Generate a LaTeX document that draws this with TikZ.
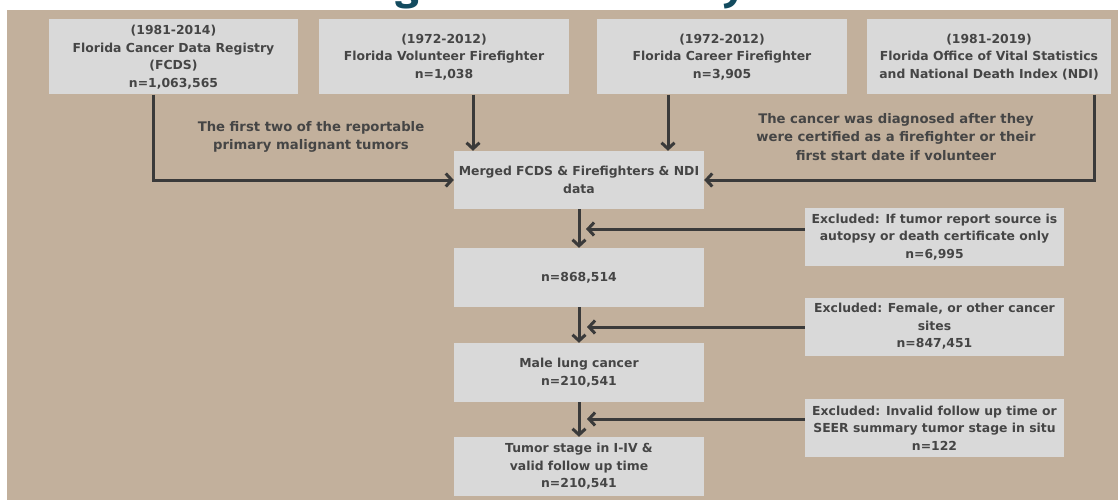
\documentclass[tikz,border=0pt]{standalone}
\usepackage{fontspec}
\setmainfont{DejaVu Sans}
\newfontfamily\titlefont{Fira Sans}
\usetikzlibrary{arrows.meta}
\definecolor{bgtan}{HTML}{C2B09C}
\definecolor{boxgray}{HTML}{D9D9D9}
\definecolor{txtgray}{HTML}{454545}
\definecolor{linegray}{HTML}{3A3A3A}
\definecolor{titleblue}{HTML}{134B5F}
\begin{document}
\begin{tikzpicture}[x=1pt,y=-1pt,
  txtfont/.style={font=\fontsize{12.4}{17.6}\selectfont\bfseries},
  notefont/.style={font=\fontsize{13.2}{18.2}\selectfont\bfseries},
  box/.style={fill=boxgray, draw=none, align=center, text=txtgray, txtfont, inner sep=0pt, minimum width=250pt},
  srcbox/.style={box, minimum height=75pt},
  flowbox/.style={box, minimum height=59pt},
  exbox/.style={box, minimum width=259pt, minimum height=58pt},
  note/.style={align=center, text=txtgray, notefont, inner sep=0pt},
  conn/.style={draw=linegray, line width=3pt},
  arr/.style={conn, -{Straight Barb[length=6pt,width=13pt,line width=3pt]}}]
\useasboundingbox (0,0) rectangle (1118,500);
% partially hidden title
\begin{scope}
  \clip (0,0) rectangle (1118,10);
  \node[anchor=base west, inner sep=0pt, font=\titlefont\fontsize{43}{43}\selectfont\bfseries, text=titleblue] (title) at (231,0) {Flow Diagram of the Study};
\end{scope}
\fill[bgtan] (7,10) rectangle (1118,500);

% source boxes
\node[srcbox, minimum width=249pt] (b1) at (173.5,57) {(1981-2014)\\Florida Cancer Data Registry\\(FCDS)\\n=1,063,565};
\node[srcbox] (b2) at (444,57) {(1972-2012)\\Florida Volunteer Firefighter\\n=1,038};
\node[srcbox] (b3) at (722,57) {(1972-2012)\\Florida Career Firefighter\\n=3,905};
\node[srcbox, minimum width=244pt] (b4) at (989,57) {(1981-2019)\\Florida Office of Vital Statistics\\and National Death Index (NDI)};

% main flow
\node[flowbox, minimum height=58pt] (merged) at (579,180) {Merged FCDS \& Firefighters \& NDI\\data};
\node[flowbox] (n1) at (579,277.5) {n=868,514};
\node[flowbox] (male) at (579,372.5) {Male lung cancer\\n=210,541};
\node[flowbox] (tumor) at (579,466.5) {Tumor stage in I-IV \&\\valid follow up time\\n=210,541};

% exclusion boxes
\node[exbox] (ex1) at (934.5,237) {Excluded: If tumor report source is\\autopsy or death certificate only\\n=6,995};
\node[exbox] (ex2) at (934.5,326.5) {Excluded: Female, or other cancer\\sites\\n=847,451};
\node[exbox] (ex3) at (934.5,428) {Excluded: Invalid follow up time or\\SEER summary tumor stage in situ\\n=122};

% notes
\node[note] (note1) at (311,137) {The first two of the reportable\\primary malignant tumors};
\node[note] (note2) at (896,137) {The cancer was diagnosed after they\\were certified as a firefighter or their\\first start date if volunteer};

% connectors from sources
\coordinate (v1) at (153,0);
\coordinate (v2) at (473,0);
\coordinate (v3) at (668,0);
\coordinate (v4) at (1094,0);
\draw[arr] (b1.south -| v1) |- (merged.west);
\draw[arr] (b2.south -| v2) -- (merged.north -| v2);
\draw[arr] (b3.south -| v3) -- (merged.north -| v3);
\draw[arr] (b4.south -| v4) |- (merged.east);

% main flow arrows
\draw[arr] (merged.south) -- (n1.north);
\draw[arr] (n1.south) -- (male.north);
\draw[arr] (male.south) -- (tumor.north);

% exclusion arrows
\coordinate (e1) at (586,229);
\coordinate (e2) at (587,327);
\coordinate (e3) at (587,419);
\draw[arr] (e1 -| ex1.west) -- (e1);
\draw[arr] (e2 -| ex2.west) -- (e2);
\draw[arr] (e3 -| ex3.west) -- (e3);
\end{tikzpicture}
\end{document}
